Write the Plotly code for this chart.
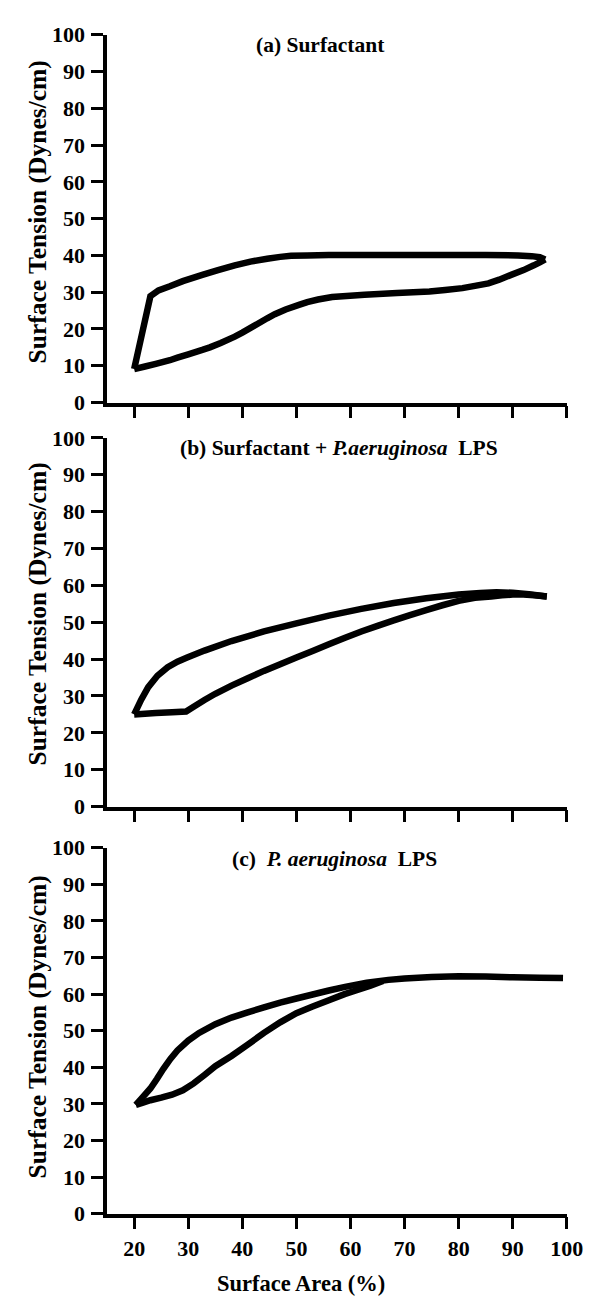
import plotly.graph_objects as go

W, H = 604, 1302

# ---------------- data ----------------
# (a) Surfactant
a_up_x = [20, 21.5, 23, 24.5, 26.6, 29, 32.6, 35.5, 38.6, 41.5, 44.6, 47, 49, 52, 56, 65, 75, 85, 91, 93.5, 95, 96]
a_up_y = [9.1, 19, 28.9, 30.5, 31.6, 33.0, 34.7, 36.0, 37.3, 38.3, 39.1, 39.6, 39.9, 40, 40.1, 40.1, 40.1, 40.1, 40, 39.8, 39.5, 38.9]
a_lo_x = [96, 95, 93.9, 92, 89.7, 87.5, 85.5, 83, 80.7, 77.5, 74.6, 68.6, 62.6, 56.6, 54, 52, 50.6, 48, 46,
          44.6, 42, 40, 38.6, 36, 34, 32.6, 30, 28, 26.6, 24, 22, 20]
a_lo_y = [38.9, 38.1, 37.3, 36, 34.7, 33.4, 32.4, 31.7, 31.1, 30.6, 30.2, 29.8, 29.3, 28.7, 28.0, 27.3, 26.6, 25.3, 24.0,
          22.9, 20.7, 19.0, 17.9, 16.2, 15.0, 14.3, 13.1, 12.2, 11.5, 10.5, 9.8, 9.1]

# (b) Surfactant + P.aeruginosa LPS
b_up_x = [20, 21.3, 22.6, 24.3, 26.2, 28, 29.8, 33, 38, 44, 50, 56, 62, 68, 74, 80, 84, 87, 90, 93, 96.3]
b_up_y = [25, 29, 32.4, 35.5, 37.8, 39.3, 40.4, 42.3, 44.9, 47.5, 49.7, 51.8, 53.6, 55.2, 56.5, 57.5, 57.9, 58.1, 58, 57.6, 57]
b_lo_x = [96.3, 94, 92, 90, 88, 86, 83, 80, 77, 74, 71, 68, 65, 62, 59, 56, 53, 50, 47, 44, 41, 38, 35, 33, 31, 29.6, 27, 24, 20]
b_lo_y = [57, 57.3, 57.5, 57.5, 57.3, 57, 56.6, 55.8, 54.6, 53.3, 51.9, 50.5, 49, 47.5, 45.8, 44, 42.2, 40.4, 38.6,
          36.8, 34.8, 32.8, 30.6, 28.9, 27.1, 25.8, 25.6, 25.4, 25]

# (c) P. aeruginosa LPS
c_up_x = [20.3, 21.5, 23, 24.2, 25.4, 26.7, 28, 30, 32, 35, 38, 41, 44, 47, 50, 53, 56, 59, 63, 67, 70, 75, 80, 85, 90, 95, 99.3]
c_up_y = [29.7, 31.7, 34.2, 36.8, 39.6, 42.3, 44.6, 47.3, 49.4, 51.8, 53.6, 55, 56.4, 57.7, 58.8, 59.9, 61, 62, 63.1,
          63.9, 64.3, 64.7, 64.9, 64.8, 64.6, 64.5, 64.4]
c_lo_x = [66, 63.7, 61, 58.9, 56, 53, 50, 47, 44, 41, 38, 35, 33, 31, 29, 27, 25, 23, 21.5, 20.3]
c_lo_y = [63.6, 62.3, 61, 60, 58.3, 56.6, 54.8, 52.3, 49.4, 46.2, 43.1, 40.3, 37.9, 35.6, 33.7, 32.5, 31.7, 31, 30.3, 29.7]

x_ticks = [20, 30, 40, 50, 60, 70, 80, 90, 100]
y_ticks = [0, 10, 20, 30, 40, 50, 60, 70, 80, 90, 100]

titles = [
    "<b>(a) Surfactant</b>",
    "<b>(b) Surfactant + <i>P.aeruginosa</i>  LPS</b>",
    "<b>(c)  <i>P. aeruginosa</i>  LPS</b>",
]
y_title = "<b>Surface Tension (Dynes/cm)</b>"
x_title = "<b>Surface Area (%)</b>"

# ---------------- layout geometry (pixels) ----------------
panels = [
    dict(up=(a_up_x, a_up_y), lo=(a_lo_x, a_lo_y), top=15, bot=390, tx=322, ty=25, ycen=196),
    dict(up=(b_up_x, b_up_y), lo=(b_lo_x, b_lo_y), top=426, bot=802, tx=341, ty=436, ycen=606),
    dict(up=(c_up_x, c_up_y), lo=(c_lo_x, c_lo_y), top=844, bot=1217, tx=336, ty=855, ycen=1027),
]
x_left, x_right = 102, 575

FONT = "Liberation Serif"
fig = go.Figure()
layout = dict(
    width=W, height=H, margin=dict(l=0, r=0, t=0, b=0),
    paper_bgcolor="white", plot_bgcolor="white", showlegend=False,
    font=dict(family=FONT, color="black"),
    annotations=[],
)

for i, p in enumerate(panels):
    n = "" if i == 0 else str(i + 1)
    xa, ya = "x" + n, "y" + n
    for xs, ys in (p["up"], p["lo"]):
        fig.add_trace(go.Scatter(
            x=xs, y=ys, mode="lines", xaxis=xa, yaxis=ya,
            line=dict(color="black", width=6.5, shape="linear", simplify=False),
            hoverinfo="skip",
        ))
    layout["xaxis" + n] = dict(
        domain=[x_left / W, x_right / W], range=[15, 100], anchor=ya,
        showline=True, linecolor="black", linewidth=3.5,
        ticks="outside", ticklen=12, tickwidth=2.5, tickcolor="black",
        tickvals=x_ticks, showticklabels=(i == 2),
        tickfont=dict(family=FONT, size=22, weight="bold", color="black"),
        showgrid=False, zeroline=False, fixedrange=True,
    )
    layout["yaxis" + n] = dict(
        domain=[1 - p["bot"] / H, 1 - p["top"] / H], range=[0, 100], anchor=xa,
        showline=True, linecolor="black", linewidth=3.5,
        ticks="outside", ticklen=12, tickwidth=2.5, tickcolor="black",
        tickvals=y_ticks, ticklabelstandoff=2,
        tickfont=dict(family=FONT, size=22, weight="bold", color="black"),
        showgrid=False, zeroline=False, fixedrange=True,
    )
    layout["annotations"].append(dict(
        text=titles[i], xref="paper", yref="paper",
        x=p["tx"] / W, y=1 - p["ty"] / H, xanchor="center", yanchor="middle",
        showarrow=False, font=dict(family=FONT, size=21.5, color="black"),
    ))
    layout["annotations"].append(dict(
        text=y_title, xref="paper", yref="paper",
        x=30 / W, y=1 - p["ycen"] / H, xanchor="center", yanchor="middle",
        textangle=-90, showarrow=False, font=dict(family=FONT, size=25.5, color="black"),
    ))

layout["annotations"].append(dict(
    text=x_title, xref="paper", yref="paper",
    x=301 / W, y=1 - 1288 / H, xanchor="center", yanchor="middle",
    showarrow=False, font=dict(family=FONT, size=22.5, color="black"),
))

fig.update_layout(**layout)
fig.write_html("out.html")
